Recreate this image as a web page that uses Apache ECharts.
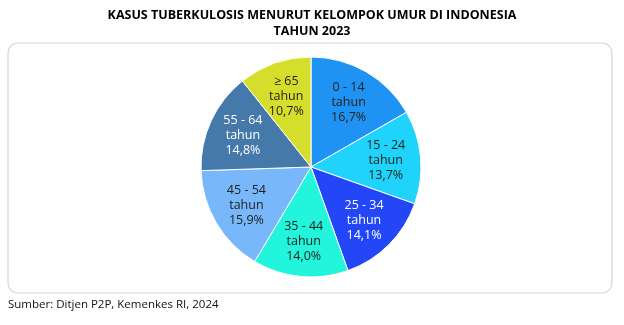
<!DOCTYPE html>
<html><head><meta charset="utf-8">
<script src="https://cdn.jsdelivr.net/npm/echarts@6/dist/echarts.min.js"></script>
<style>html,body{margin:0;padding:0;background:#fff}#c{width:624px;height:325px}</style>
</head><body><div id="c"></div>
<script>
const categories = ['0 - 14\ntahun', '15 - 24\ntahun', '25 - 34\ntahun', '35 - 44\ntahun', '45 - 54\ntahun', '55 - 64\ntahun', '≥ 65\ntahun'];
const values = [16.7, 13.7, 14.1, 14.0, 15.9, 14.8, 10.7];
const valueLabels = ['16,7%', '13,7%', '14,1%', '14,0%', '15,9%', '14,8%', '10,7%'];
const colors = ['#1F93F4', '#1FD3FA', '#2346F6', '#22F5DC', '#78B8FA', '#4479AA', '#D5DE2A'];
const labelColors = ['#222', '#222', '#fff', '#222', '#222', '#fff', '#222'];

const chart = echarts.init(document.getElementById('c'), null, {renderer: 'canvas'});
const fontFam = '"Open Sans", "Noto Sans", sans-serif';
const mainData = values.map((v, i) => ({name: categories[i], value: v, itemStyle: {color: colors[i]}}));
const labelData = values.map((v, i) => ({
  name: categories[i], value: v,
  itemStyle: {color: 'rgba(0,0,0,0)'},
  label: {color: labelColors[i]}
}));
chart.setOption({
  animation: false,
  title: {
    text: 'KASUS TUBERKULOSIS MENURUT KELOMPOK UMUR DI INDONESIA\nTAHUN 2023',
    left: 'center', top: 2,
    textStyle: {fontFamily: fontFam, fontWeight: 'bold', fontSize: 12.5, color: '#000', lineHeight: 16}
  },
  graphic: [
    {type: 'rect', shape: {x: 8, y: 43, width: 604, height: 250, r: 10}, style: {fill: '#fff', stroke: '#d6d6d6', lineWidth: 1.2}, z: -10},
    {type: 'text', left: 8, top: 299, style: {text: 'Sumber: Ditjen P2P, Kemenkes RI, 2024', font: '11.5px "Open Sans", sans-serif', fill: '#111'}}
  ],
  series: [
    {
      type: 'pie', center: [311, 167], radius: [0, 110], startAngle: 90, clockwise: true,
      label: {show: false}, labelLine: {show: false},
      itemStyle: {borderColor: '#ffffff', borderWidth: 1},
      data: mainData, silent: true
    },
    {
      type: 'pie', center: [311, 167], radius: [34, 110], startAngle: 90, clockwise: true,
      silent: true, z: 5,
      labelLine: {show: false},
      label: {
        show: true, position: 'inside',
        fontFamily: fontFam, fontSize: 12.5, lineHeight: 15,
        formatter: p => p.name + '\n' + valueLabels[p.dataIndex]
      },
      data: labelData
    }
  ]
});
</script></body></html>
